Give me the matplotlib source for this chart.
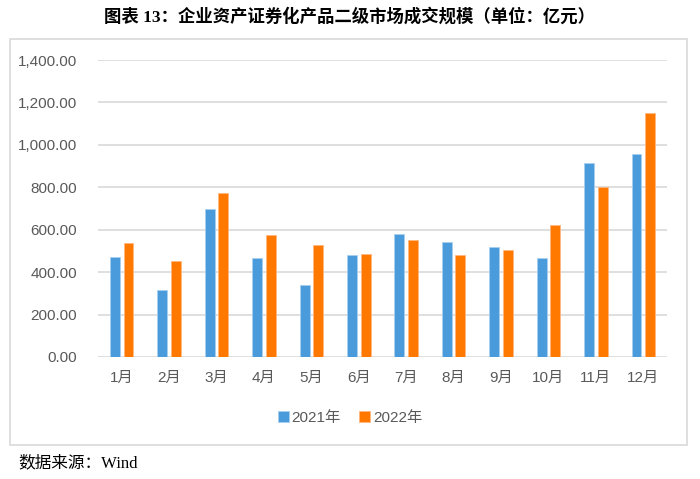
import numpy as np
import matplotlib.pyplot as plt
from matplotlib.patches import Rectangle
from matplotlib.ticker import FuncFormatter

months = ["1月", "2月", "3月", "4月", "5月", "6月", "7月", "8月", "9月", "10月", "11月", "12月"]
vol_2021 = [473, 314, 698, 467, 339, 481, 578, 542, 517, 465, 913, 958]
vol_2022 = [537, 451, 772, 574, 526, 486, 551, 481, 506, 621, 801, 1149]
yticks = [0, 200, 400, 600, 800, 1000, 1200, 1400]

sans = ["Liberation Sans", "Noto Sans CJK SC"]
plt.rcParams["font.family"] = sans

fig = plt.figure(figsize=(7, 4.79), dpi=100)
ax = fig.add_axes([98 / 700, 1 - 357 / 479, (667 - 98) / 700, (357 - 60) / 479])

x = np.arange(len(months))
w = 0.21
off = 0.143
ax.bar(x - off, vol_2021, w, color="#4A9BDB", edgecolor="#A9CFEF", linewidth=0.6, label="2021年", zorder=3)
ax.bar(x + off, vol_2022, w, color="#FF7800", edgecolor="#FFB680", linewidth=0.6, label="2022年", zorder=3)

ax.set_xlim(-0.5, 11.5)
ax.set_ylim(0, 1400)
ax.set_yticks(yticks)
ax.yaxis.set_major_formatter(FuncFormatter(lambda v, p: f"{v:,.2f}"))
ax.set_xticks(x)
ax.set_xticklabels(months)
ax.grid(axis="y", color="#D9D9D9", linewidth=1.2, zorder=0)
for s in ax.spines.values():
    s.set_visible(False)
ax.tick_params(axis="both", length=0, labelsize=11, labelcolor="#595959")
ax.tick_params(axis="y", pad=15)
ax.tick_params(axis="x", pad=10)

leg = ax.legend(loc="center", bbox_to_anchor=(350 / 700, 1 - 418 / 479), bbox_transform=fig.transFigure,
                ncol=2, frameon=False, fontsize=11, handlelength=0.7, handleheight=0.7,
                handletextpad=0.2, columnspacing=1.2)
for t in leg.get_texts():
    t.set_color("#595959")

fig.patches.append(Rectangle((10 / 700, 1 - 445 / 479), 677 / 700, 406 / 479, transform=fig.transFigure,
                             fill=False, edgecolor="#D9D9D9", linewidth=1.2))

fig.text(0.5, 1 - 17 / 479, "图表 13：企业资产证券化产品二级市场成交规模（单位：亿元）", ha="center", va="center",
         fontsize=12.5, fontweight="bold", family=["Liberation Serif", "Noto Sans CJK SC"])
fig.text(18 / 700, 1 - 463 / 479, "数据来源：Wind", ha="left", va="center", fontsize=12,
         family=["Liberation Serif", "Noto Sans CJK SC"])

fig.savefig("out.png", dpi=100)
